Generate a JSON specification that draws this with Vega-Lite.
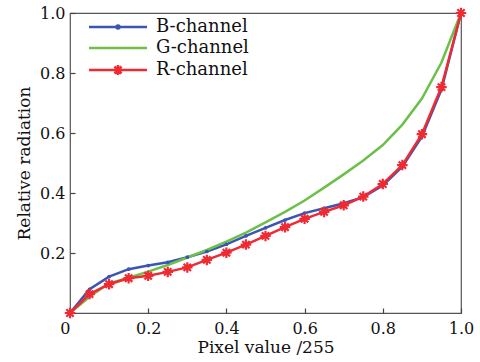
{
  "$schema": "https://vega.github.io/schema/vega-lite/v6.json",
  "width": 391,
  "height": 300,
  "autosize": {"type": "none"},
  "padding": {"left": 70, "top": 13, "right": 19, "bottom": 49},
  "background": "white",
  "config": {
    "font": "DejaVu Serif",
    "view": {"stroke": "#555555", "strokeWidth": 1.2},
    "axis": {
      "grid": false,
      "domain": false,
      "tickColor": "#444444",
      "tickWidth": 1.2,
      "tickSize": 5,
      "offset": -5,
      "labelFont": "DejaVu Serif",
      "labelFontSize": 16,
      "labelColor": "#111111",
      "titleFont": "DejaVu Serif",
      "titleFontSize": 17,
      "titleFontWeight": "normal",
      "titleColor": "#111111"
    },
    "legend": {
      "orient": "none",
      "legendX": 39,
      "legendY": 5,
      "padding": 0,
      "symbolSize": 100,
      "symbolStrokeWidth": 2.5,
      "labelOffset": 29,
      "labelFont": "DejaVu Serif",
      "labelFontSize": 18,
      "labelColor": "#111111",
      "rowPadding": 3
    }
  },
  "data": {
    "values": [
      {"x": 0, "y": 0, "channel": "B-channel"},
      {"x": 0.05, "y": 0.079, "channel": "B-channel"},
      {"x": 0.1, "y": 0.121, "channel": "B-channel"},
      {"x": 0.15, "y": 0.146, "channel": "B-channel"},
      {"x": 0.2, "y": 0.158, "channel": "B-channel"},
      {"x": 0.25, "y": 0.169, "channel": "B-channel"},
      {"x": 0.3, "y": 0.186, "channel": "B-channel"},
      {"x": 0.35, "y": 0.205, "channel": "B-channel"},
      {"x": 0.4, "y": 0.229, "channel": "B-channel"},
      {"x": 0.45, "y": 0.257, "channel": "B-channel"},
      {"x": 0.5, "y": 0.284, "channel": "B-channel"},
      {"x": 0.55, "y": 0.31, "channel": "B-channel"},
      {"x": 0.6, "y": 0.333, "channel": "B-channel"},
      {"x": 0.65, "y": 0.349, "channel": "B-channel"},
      {"x": 0.7, "y": 0.366, "channel": "B-channel"},
      {"x": 0.75, "y": 0.386, "channel": "B-channel"},
      {"x": 0.8, "y": 0.425, "channel": "B-channel"},
      {"x": 0.85, "y": 0.488, "channel": "B-channel"},
      {"x": 0.9, "y": 0.588, "channel": "B-channel"},
      {"x": 0.95, "y": 0.745, "channel": "B-channel"},
      {"x": 1.0, "y": 1.0, "channel": "B-channel"},
      {"x": 0, "y": 0, "channel": "G-channel"},
      {"x": 0.05, "y": 0.054, "channel": "G-channel"},
      {"x": 0.1, "y": 0.099, "channel": "G-channel"},
      {"x": 0.15, "y": 0.118, "channel": "G-channel"},
      {"x": 0.2, "y": 0.138, "channel": "G-channel"},
      {"x": 0.25, "y": 0.16, "channel": "G-channel"},
      {"x": 0.3, "y": 0.185, "channel": "G-channel"},
      {"x": 0.35, "y": 0.21, "channel": "G-channel"},
      {"x": 0.4, "y": 0.238, "channel": "G-channel"},
      {"x": 0.45, "y": 0.268, "channel": "G-channel"},
      {"x": 0.5, "y": 0.302, "channel": "G-channel"},
      {"x": 0.55, "y": 0.337, "channel": "G-channel"},
      {"x": 0.6, "y": 0.375, "channel": "G-channel"},
      {"x": 0.65, "y": 0.418, "channel": "G-channel"},
      {"x": 0.7, "y": 0.462, "channel": "G-channel"},
      {"x": 0.75, "y": 0.508, "channel": "G-channel"},
      {"x": 0.8, "y": 0.56, "channel": "G-channel"},
      {"x": 0.85, "y": 0.628, "channel": "G-channel"},
      {"x": 0.9, "y": 0.715, "channel": "G-channel"},
      {"x": 0.95, "y": 0.835, "channel": "G-channel"},
      {"x": 1.0, "y": 1.0, "channel": "G-channel"},
      {"x": 0, "y": 0, "channel": "R-channel"},
      {"x": 0.05, "y": 0.063, "channel": "R-channel"},
      {"x": 0.1, "y": 0.096, "channel": "R-channel"},
      {"x": 0.15, "y": 0.116, "channel": "R-channel"},
      {"x": 0.2, "y": 0.124, "channel": "R-channel"},
      {"x": 0.25, "y": 0.137, "channel": "R-channel"},
      {"x": 0.3, "y": 0.152, "channel": "R-channel"},
      {"x": 0.35, "y": 0.177, "channel": "R-channel"},
      {"x": 0.4, "y": 0.201, "channel": "R-channel"},
      {"x": 0.45, "y": 0.228, "channel": "R-channel"},
      {"x": 0.5, "y": 0.257, "channel": "R-channel"},
      {"x": 0.55, "y": 0.286, "channel": "R-channel"},
      {"x": 0.6, "y": 0.314, "channel": "R-channel"},
      {"x": 0.65, "y": 0.337, "channel": "R-channel"},
      {"x": 0.7, "y": 0.359, "channel": "R-channel"},
      {"x": 0.75, "y": 0.388, "channel": "R-channel"},
      {"x": 0.8, "y": 0.43, "channel": "R-channel"},
      {"x": 0.85, "y": 0.493, "channel": "R-channel"},
      {"x": 0.9, "y": 0.596, "channel": "R-channel"},
      {"x": 0.95, "y": 0.753, "channel": "R-channel"},
      {"x": 1.0, "y": 1.0, "channel": "R-channel"}
    ]
  },
  "encoding": {
    "x": {
      "field": "x",
      "type": "quantitative",
      "scale": {"domain": [0, 1], "nice": false, "zero": false},
      "axis": {
        "title": "Pixel value /255",
        "values": [0, 0.2, 0.4, 0.6, 0.8, 1.0],
        "labelExpr": "datum.value == 0 ? '0' : format(datum.value, '.1f')",
        "labelAlign": {"condition": {"test": "datum.value == 0", "value": "right"}, "value": "center"},
        "labelPadding": 7,
        "titlePadding": 3
      }
    },
    "y": {
      "field": "y",
      "type": "quantitative",
      "scale": {"domain": [0, 1], "nice": false},
      "axis": {
        "title": "Relative radiation",
        "values": [0, 0.2, 0.4, 0.6, 0.8, 1.0],
        "labelExpr": "datum.value == 0 ? '' : format(datum.value, '.1f')",
        "labelPadding": 5,
        "titlePadding": 6
      }
    }
  },
  "layer": [
    {
      "mark": {"type": "line", "strokeWidth": 2.5},
      "encoding": {
        "color": {
          "field": "channel",
          "type": "nominal",
          "scale": {"domain": ["B-channel", "G-channel", "R-channel"], "range": ["#3a55b4", "#6cc04a", "#ee2a33"]},
          "legend": null
        }
      }
    },
    {
      "transform": [{"filter": "datum.channel == 'B-channel'"}],
      "mark": {"type": "point", "filled": true, "size": 14, "color": "#3a55b4", "opacity": 1}
    },
    {
      "transform": [{"filter": "datum.channel == 'R-channel'"}],
      "mark": {
        "type": "point",
        "shape": "M-1,0L1,0M0,-1L0,1M-0.7,-0.7L0.7,0.7M-0.7,0.7L0.7,-0.7",
        "size": 110,
        "filled": false,
        "stroke": "#ee2a33",
        "strokeWidth": 2.2,
        "opacity": 1
      }
    },
    {
      "transform": [{"filter": "datum.y > 5"}],
      "mark": {"type": "point", "filled": false, "strokeWidth": 2.5, "opacity": 1},
      "encoding": {
        "color": {
          "field": "channel",
          "type": "nominal",
          "scale": {"domain": ["B-channel", "G-channel", "R-channel"], "range": ["#3a55b4", "#6cc04a", "#ee2a33"]},
          "legend": {"title": null}
        },
        "shape": {
          "field": "channel",
          "type": "nominal",
          "scale": {
            "domain": ["B-channel", "G-channel", "R-channel"],
            "range": [
              "M-5.8,0L5.8,0M-0.3,0A0.3,0.3 0 1,1 0.3,0A0.3,0.3 0 1,1 -0.3,0",
              "M-5.8,0L5.8,0",
              "M-5.8,0L5.8,0M-1,0L1,0M0,-1L0,1M-0.7,-0.7L0.7,0.7M-0.7,0.7L0.7,-0.7"
            ]
          },
          "legend": {"title": null}
        }
      }
    }
  ],
  "resolve": {"legend": {"color": "independent", "shape": "independent"}}
}
